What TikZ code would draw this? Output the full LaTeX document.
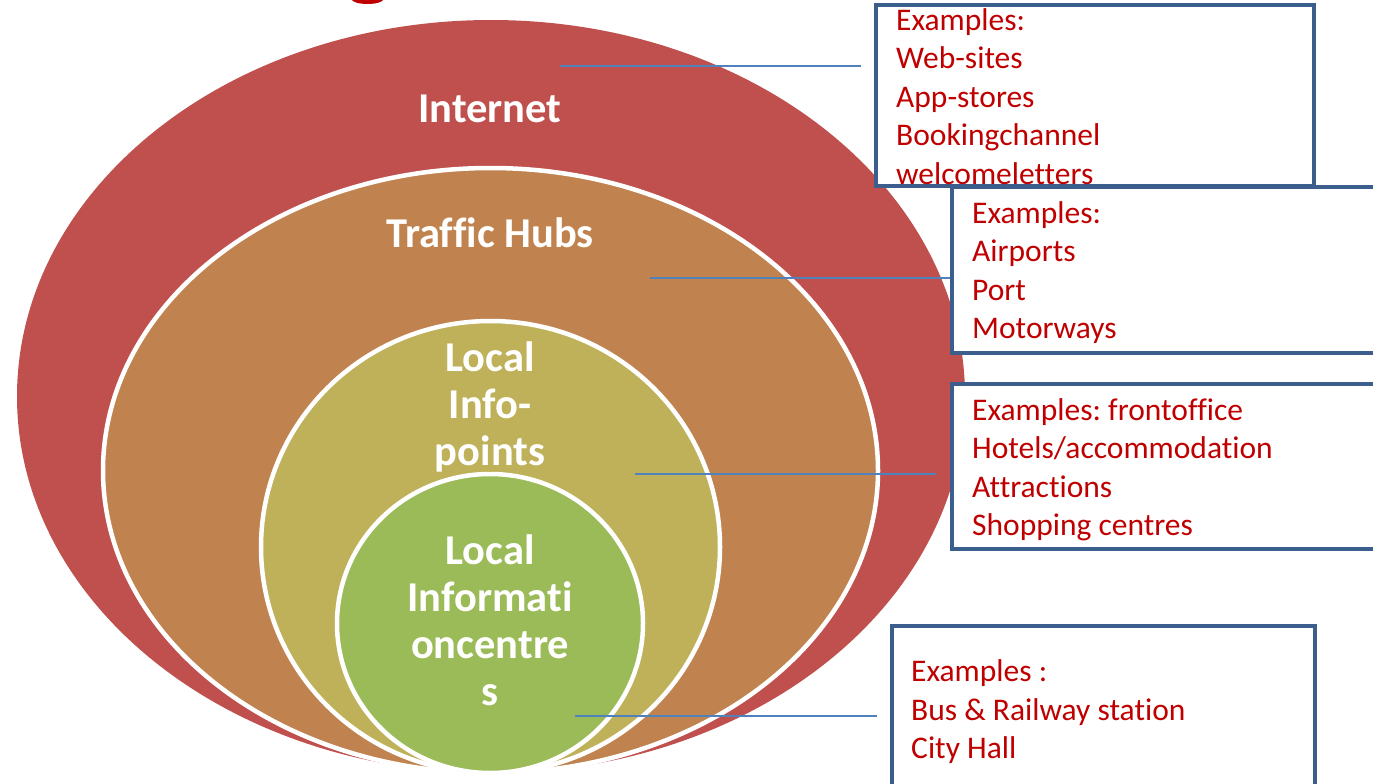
\documentclass[tikz,border=0pt]{standalone}
\usepackage{fontspec}
\setmainfont{Carlito}[Ligatures={NoCommon}]
\frenchspacing
\usetikzlibrary{shapes.geometric}
\definecolor{netred}{HTML}{C0504D}
\definecolor{hubbrown}{HTML}{C0834F}
\definecolor{infoolive}{HTML}{BFB15A}
\definecolor{centregreen}{HTML}{9BBB59}
\definecolor{frameblue}{HTML}{3B5E8C}
\definecolor{textred}{HTML}{C00000}
\definecolor{leaderblue}{HTML}{4F81BD}
\begin{document}
\begin{tikzpicture}[x=1pt,y=-1pt,
  ring/.style={ellipse, draw=white, line width=4.5pt, inner sep=0pt},
  % multi-line nodes: the base anchor sits on the last line
  ringlabel/.style={text=white, font=\bfseries\fontsize{42.5}{46.7}\selectfont,
    align=center, anchor=base, inner sep=0pt},
  leader/.style={draw=leaderblue, line width=2pt},
  examplebox/.style={rectangle, draw=frameblue, fill=white, line width=4pt, inner sep=0pt},
  exampletext/.style={text=textred, font=\fontsize{31.5}{38.5}\selectfont,
    align=left, anchor=base west, inner sep=0pt}]
\useasboundingbox (0,0) rectangle (1373,784);

% tail of a heading letter at the top edge
\fill[textred] (367.5,-1) ellipse [x radius=16, y radius=5];

% nested channel rings, all touching at the bottom
\node[ring, draw=none, fill=netred, minimum width=948pt, minimum height=753pt] (internet) at (491,396.5) {};
\node[ring, fill=hubbrown, minimum width=775pt, minimum height=605pt] (hubs) at (490.5,470.5) {};
\node[ring, fill=infoolive, minimum width=459pt, minimum height=452pt] (infopoints) at (490.5,547) {};
\node[ring, fill=centregreen, minimum width=306pt, minimum height=299pt] (centres) at (490,623.5) {};

% ring labels
\node[ringlabel] (lbinternet) at (490,122.7) {Internet};
\node[ringlabel] (lbhubs) at (490,247) {Traffic Hubs};
\node[ringlabel] (lbinfo) at (490,465.1) {Local\\Info-\\points};
\node[ringlabel] (lbcentres) at (490,705) {Local\\Informati\\oncentre\\s};

% leader lines towards the example boxes
\coordinate (l1a) at (560,66);   \coordinate (l1b) at (861,66);
\coordinate (l2a) at (650,277.5); \coordinate (l2b) at (952,277.5);
\coordinate (l3a) at (635,473.5); \coordinate (l3b) at (936,473.5);
\coordinate (l4a) at (575,715.5); \coordinate (l4b) at (877,715.5);
\draw[leader] (l1a) -- (l1b);
\draw[leader] (l2a) -- (l2b);
\draw[leader] (l3a) -- (l3b);
\draw[leader] (l4a) -- (l4b);

% example boxes
\node[examplebox, minimum width=438pt, minimum height=180pt] (box1) at (1095,95.5) {};
\node[exampletext] (tx1) at (896,184) {Examples:\\Web-sites\\App-stores\\Bookingchannel\\welcomeletters};

\node[examplebox, minimum width=448pt, minimum height=165.5pt] (box2) at (1176,269.75) {};
\node[exampletext] (tx2) at (972,338.8) {Examples:\\Airports\\Port\\Motorways};

\node[examplebox, minimum width=448pt, minimum height=165.5pt] (box3) at (1176,466.25) {};
\node[exampletext] (tx3) at (972,535.5) {Examples: frontoffice\\Hotels/accommodation\\Attractions\\Shopping centres};

\node[examplebox, minimum width=423pt, minimum height=194pt] (box4) at (1103.5,723) {};
\node[exampletext] (tx4) at (911,758.5) {Examples :\\Bus \& Railway station\\City Hall};
\end{tikzpicture}
\end{document}
